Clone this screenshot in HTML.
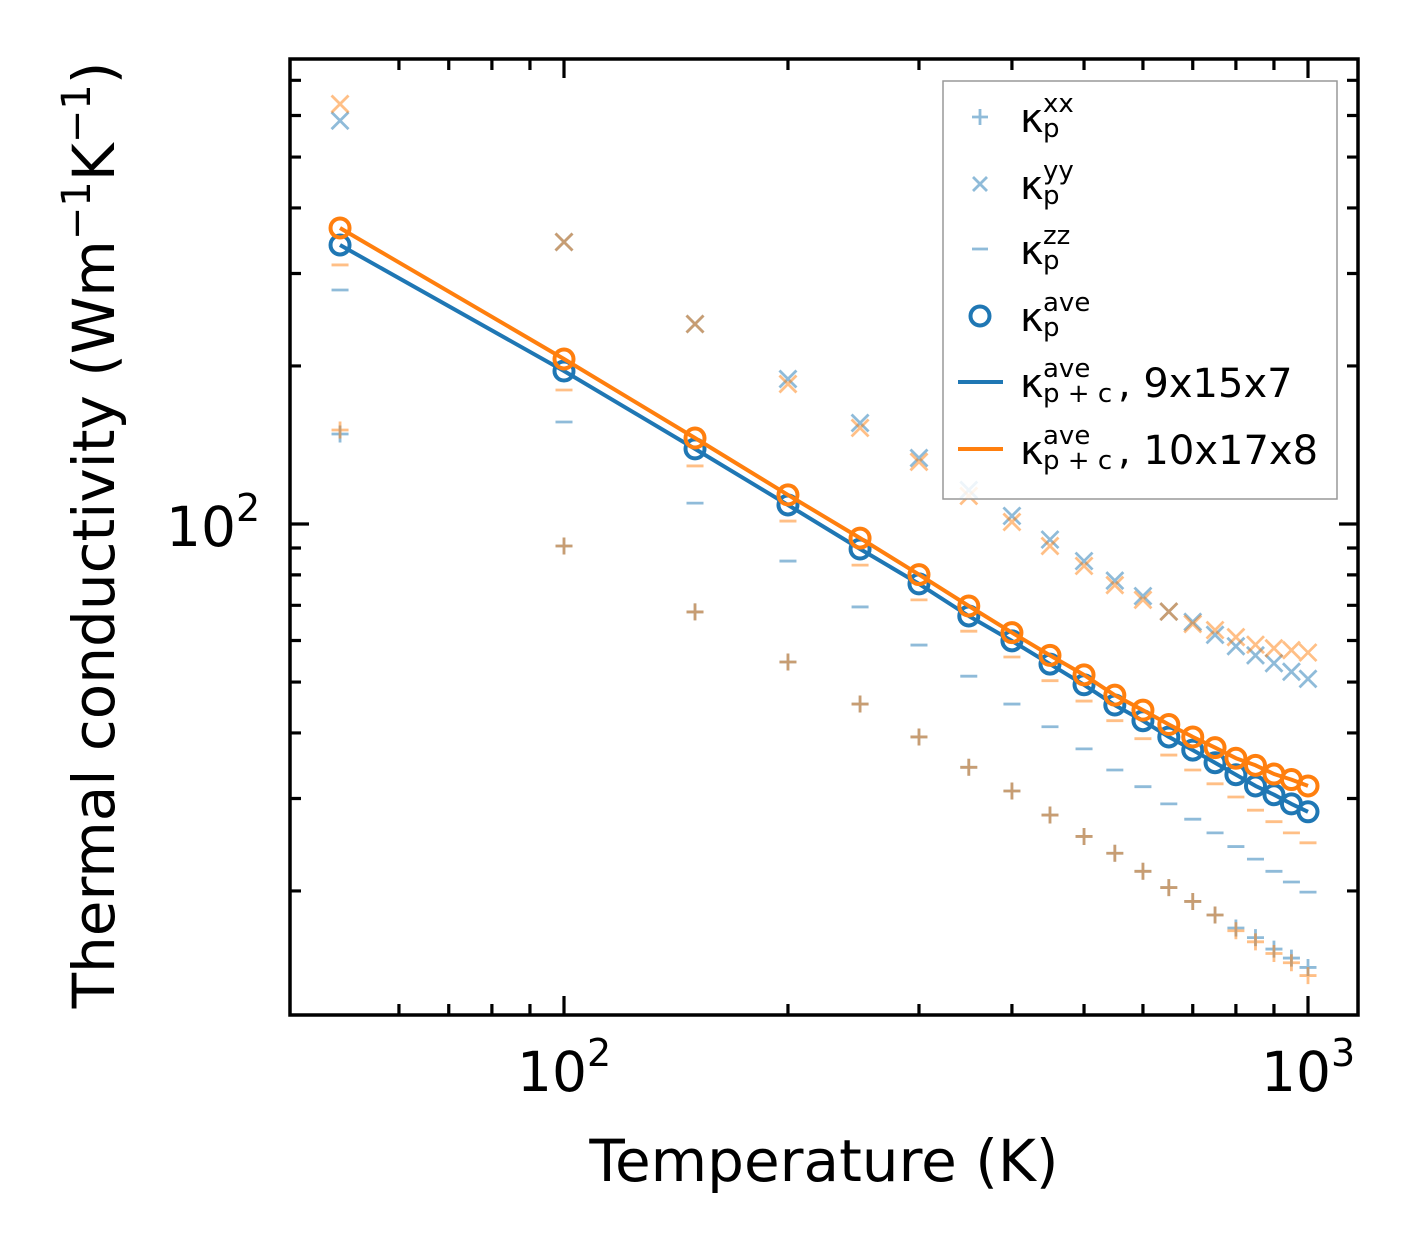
<!DOCTYPE html>
<html><head><meta charset="utf-8"><style>
html,body{margin:0;padding:0;background:#fff}
svg{display:block}
text{font-family:"DejaVu Sans","Liberation Sans",sans-serif;fill:#000}
</style></head><body>
<svg id="chart" width="1420" height="1254" viewBox="0 0 1420 1254" xmlns="http://www.w3.org/2000/svg">
<rect x="0" y="0" width="1420" height="1254" fill="#fff"/>
<g id="marks"></g>
<g id="ticks"></g>
<rect x="290" y="59" width="1068" height="956" fill="none" stroke="#000" stroke-width="3.5"/>
<text x="166" y="546" font-size="55">10<tspan font-size="38" dy="-25">2</tspan></text>
<text x="517" y="1091" font-size="55">10<tspan font-size="38" dy="-25">2</tspan></text>
<text x="1261" y="1091" font-size="55">10<tspan font-size="38" dy="-25">3</tspan></text>
<text x="824" y="1181" font-size="58" text-anchor="middle">Temperature (K)</text>
<text transform="translate(114,535) rotate(-90)" font-size="58" text-anchor="middle">Thermal conductivity (Wm<tspan font-size="40" dy="-24">−1</tspan><tspan dy="24">K</tspan><tspan font-size="40" dy="-24">−1</tspan><tspan dy="24">)</tspan></text>
<g id="legend">
<rect x="943" y="81" width="394" height="418" fill="#fff" fill-opacity="0.85" stroke="#999" stroke-width="1.5"/>
</g>
</svg>
<script>
const temps = [50,100,150,200,250,300,350,400,450,500,550,600,650,700,750,800,850,900,950,1000];
const aveBlue = [340.0,195.6,139.0,108.7,89.6,76.9,66.8,59.9,54.1,49.4,45.2,42.2,39.3,37.1,35.1,33.3,31.7,30.5,29.3,28.3];
const aveOrange = [366.3,206.2,145.8,113.6,94.0,80.1,69.8,62.1,56.2,51.6,47.2,44.2,41.5,39.3,37.5,35.8,34.7,33.4,32.6,31.7];
const xxBlue = [148.4,90.8,68.0,54.6,45.4,39.3,34.4,31.0,27.9,25.4,23.6,21.8,20.3,19.1,18.0,17.0,16.3,15.5,14.9,14.3];
const xxOrange = [151.0,90.8,68.0,54.6,45.4,39.3,34.4,31.0,27.9,25.4,23.6,21.8,20.3,19.1,18.0,16.8,16.0,15.2,14.6,13.8];
const yyBlue = [586.5,344.5,240.4,188.9,155.7,133.6,116.1,103.6,93.4,85.0,78.0,72.9,68.1,65.1,61.5,58.5,56.2,54.3,52.3,50.7];
const yyOrange = [631,344.5,240.4,184.8,152.4,131.3,113.1,100.9,90.8,83.2,76.5,71.7,68.1,64.5,62.8,60.9,58.9,58.0,57.5,56.9];
const zzBlue = [279.1,156.4,109.6,85.0,69.5,58.8,51.3,45.4,41.1,37.3,34.0,31.6,29.3,27.4,25.8,24.3,23.0,21.8,20.8,19.9];
const zzOrange = [311.5,180.0,129.0,101.3,83.5,71.7,62.5,55.8,50.3,46.0,42.2,39.0,36.3,34.0,32.0,30.2,28.5,27.1,25.8,24.7];
const xMinorTicks = [60,70,80,90,200,300,400,500,600,700,800,900];
const xMajorTicks = [100,1000];
const yMinorTicks = [20,30,40,50,60,70,80,90,200,300,400,500,600,700];
const yMajorTicks = [100];

const NS = "http://www.w3.org/2000/svg";
const X = t => 564 + 744 * Math.log10(t / 100);
const Y = v => 524 - 525 * Math.log10(v / 100);
const BLUE = "#1f77b4", ORANGE = "#ff7f0e";
const marks = document.getElementById("marks");
const ticks = document.getElementById("ticks");
const legend = document.getElementById("legend");

function mk(tag, attrs, parent) {
  const e = document.createElementNS(NS, tag);
  for (const k in attrs) e.setAttribute(k, attrs[k]);
  parent.appendChild(e);
  return e;
}
function plus(g, x, y, c, s) {
  mk("path", {d:`M${x-s},${y}H${x+s}M${x},${y-s}V${y+s}`, stroke:c, "stroke-width":2.8, "stroke-opacity":0.5, fill:"none"}, g);
}
function cross(g, x, y, c, s) {
  mk("path", {d:`M${x-s},${y-s}L${x+s},${y+s}M${x-s},${y+s}L${x+s},${y-s}`, stroke:c, "stroke-width":2.8, "stroke-opacity":0.5, fill:"none"}, g);
}
function dash(g, x, y, c, s) {
  mk("path", {d:`M${x-s},${y}H${x+s}`, stroke:c, "stroke-width":2.8, "stroke-opacity":0.5, fill:"none"}, g);
}

function scatterSeries(name, vals, c, fn) {
  const g = mk("g", {}, marks);
  
  
  vals.forEach((v, i) => fn(g, X(temps[i]), Y(v), c, 8.5));
}
scatterSeries("kxx-series-9x15x7", xxBlue, BLUE, plus);
scatterSeries("kyy-series-9x15x7", yyBlue, BLUE, cross);
scatterSeries("kzz-series-9x15x7", zzBlue, BLUE, dash);
scatterSeries("kxx-series-10x17x8", xxOrange, ORANGE, plus);
scatterSeries("kyy-series-10x17x8", yyOrange, ORANGE, cross);
scatterSeries("kzz-series-10x17x8", zzOrange, ORANGE, dash);

function aveSeries(name, vals, c) {
  const g = mk("g", {}, marks);
  
  
  const pts = vals.map((v, i) => X(temps[i]).toFixed(1) + "," + Y(v).toFixed(1)).join(" ");
  const line = mk("polyline", {points:pts, fill:"none", stroke:c, "stroke-width":4, "stroke-linejoin":"round"}, g);
  
  
  vals.forEach((v, i) => {
    const ci = mk("circle", {cx:X(temps[i]), cy:Y(v), r:9.5, fill:"none", stroke:c, "stroke-width":4}, g);
    
    
  });
}
aveSeries("kave-series-9x15x7", aveBlue, BLUE);
aveSeries("kave-series-10x17x8", aveOrange, ORANGE);

function tick(d) {
  const p = mk("path", {d:d, stroke:"#000", "stroke-width":3.2, fill:"none"}, ticks);
  
  
}
xMinorTicks.forEach(t => { const x = X(t); tick(`M${x},1015v-11M${x},59v11`); });
xMajorTicks.forEach(t => { const x = X(t); tick(`M${x},1015v-19M${x},59v19`); });
yMinorTicks.forEach(v => { const y = Y(v); tick(`M290,${y}h11M1358,${y}h-11`); });
yMajorTicks.forEach(v => { const y = Y(v); tick(`M290,${y}h19M1358,${y}h-19`); });

const rows = [
  {name:"legend-kxx", y:132, sup:"xx", sub:"p", extra:"", draw:(g,y)=>plus(g,980,y,BLUE,8)},
  {name:"legend-kyy", y:199, sup:"yy", sub:"p", extra:"", draw:(g,y)=>cross(g,980,y,BLUE,7)},
  {name:"legend-kzz", y:264, sup:"zz", sub:"p", extra:"", draw:(g,y)=>dash(g,980,y,BLUE,8)},
  {name:"legend-kave", y:331, sup:"ave", sub:"p", extra:"", draw:(g,y)=>mk("circle",{cx:980,cy:y,r:9.5,fill:"none",stroke:BLUE,"stroke-width":4},g)},
  {name:"legend-kave-9x15x7", y:397, sup:"ave", sub:"p + c", extra:", 9x15x7", draw:(g,y)=>mk("path",{d:`M958,${y}H1003`,stroke:BLUE,"stroke-width":4},g)},
  {name:"legend-kave-10x17x8", y:464, sup:"ave", sub:"p + c", extra:", 10x17x8", draw:(g,y)=>mk("path",{d:`M958,${y}H1003`,stroke:ORANGE,"stroke-width":4},g)}
];
rows.forEach(r => {
  const g = mk("g", {}, legend);
  
  
  r.draw(g, r.y - 15);
  const t = mk("text", {x:1020, y:r.y, "font-size":40}, g);
  t.textContent = "κ";
  const sup = mk("text", {x:1043, y:r.y - 20, "font-size":26}, g);
  sup.textContent = r.sup;
  const sub = mk("text", {x:1043, y:r.y + 5, "font-size":26}, g);
  sub.textContent = r.sub;
  if (r.extra) {
    const e = mk("text", {x:1118, y:r.y, "font-size":40}, g);
    e.textContent = r.extra;
  }
});
</script>
</body></html>
